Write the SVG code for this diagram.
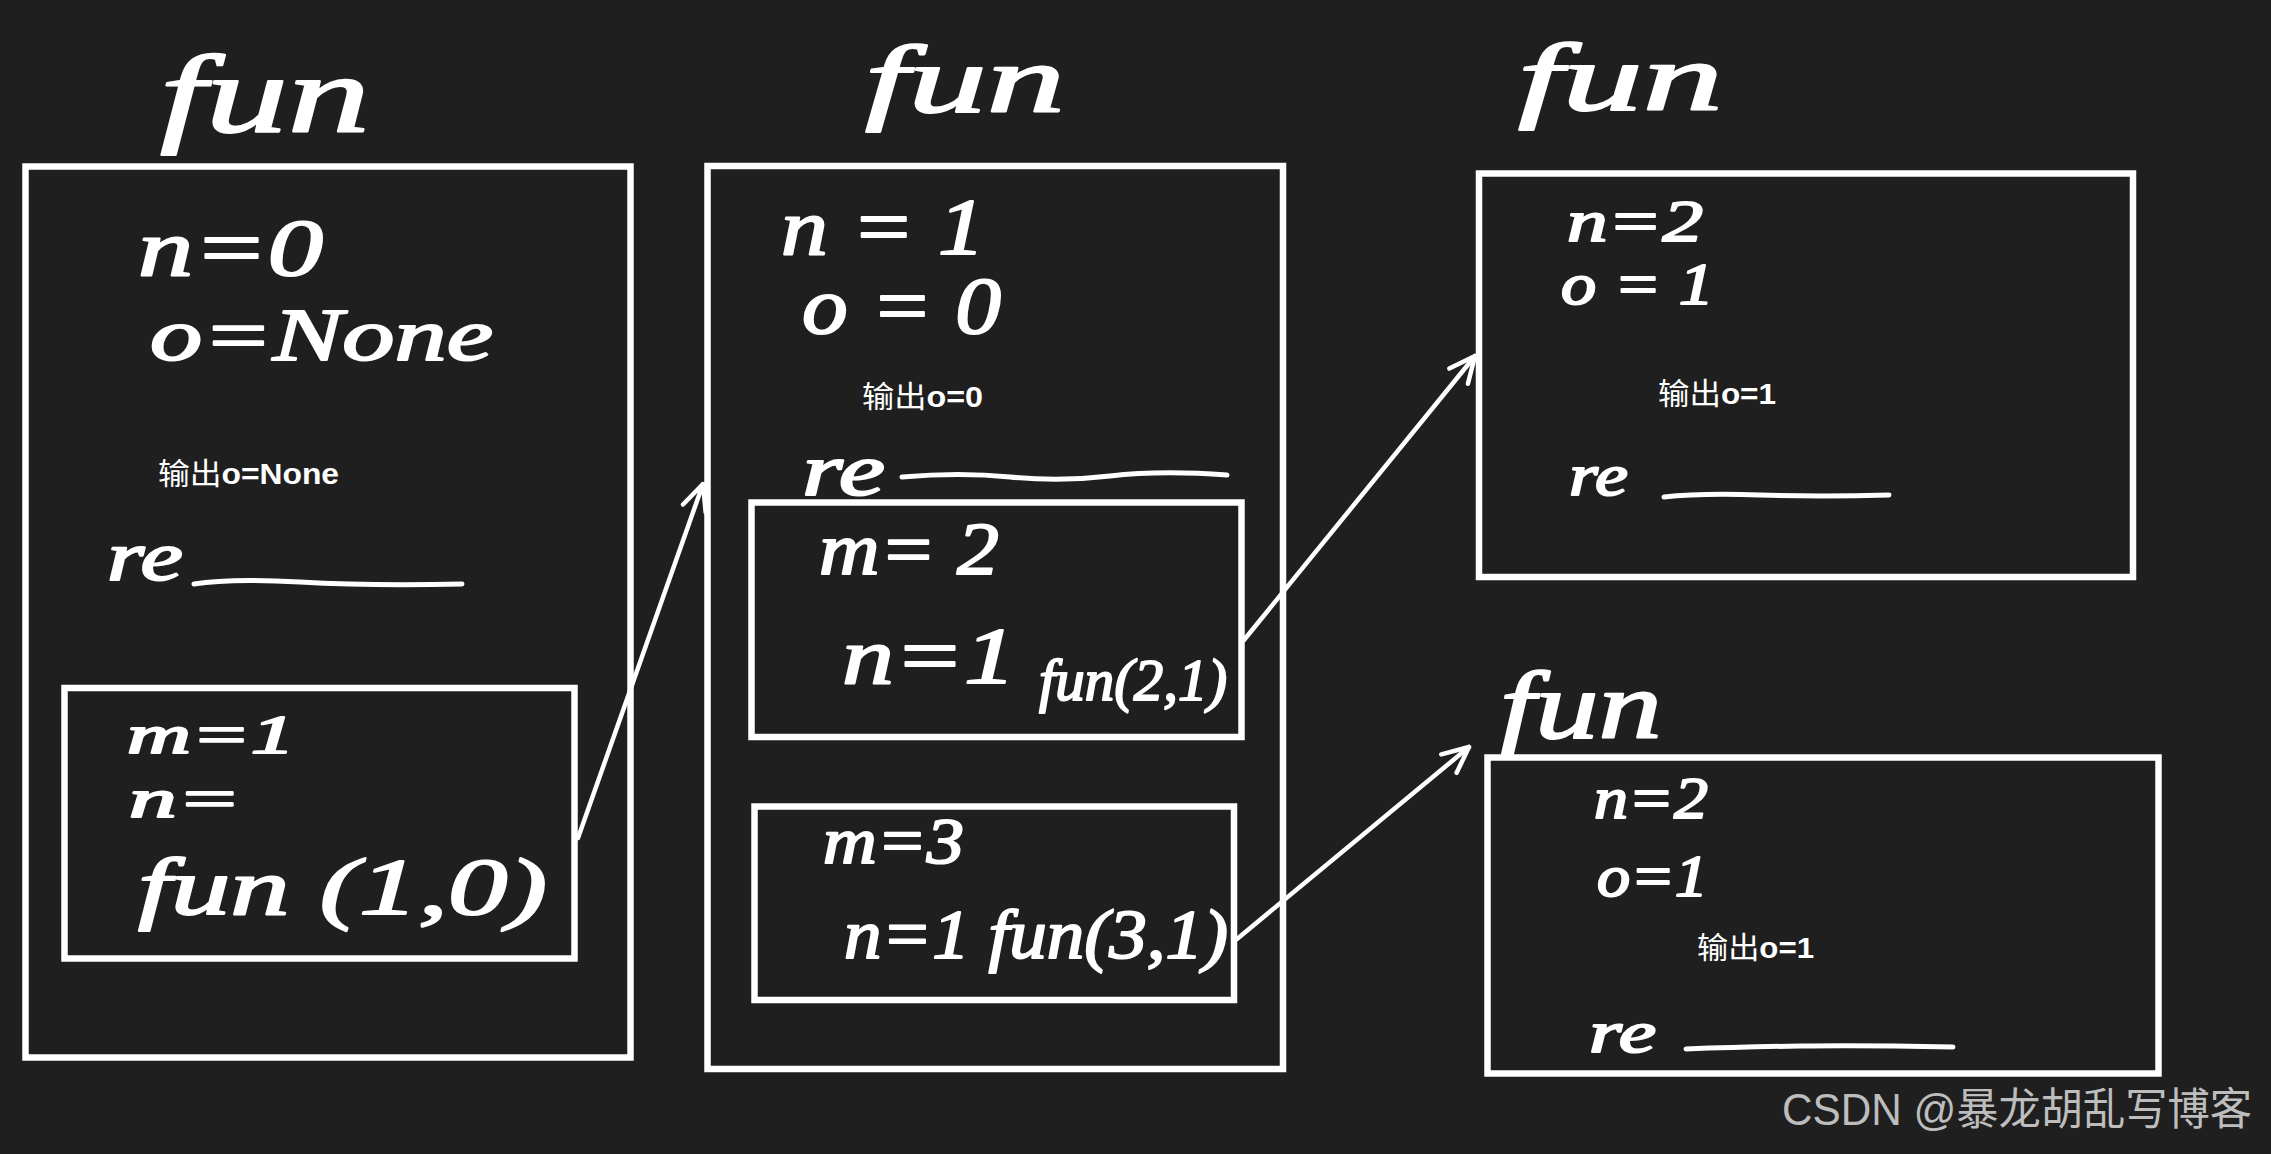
<svg xmlns="http://www.w3.org/2000/svg" width="2271" height="1154" viewBox="0 0 2271 1154">
<style>
.bg{fill:#1f1f1f}
.box{fill:none;stroke:#ffffff;stroke-width:6.5}
.hw{fill:#ffffff;font-family:"Liberation Serif","DejaVu Serif",serif;font-style:italic;stroke:#ffffff;stroke-width:2;stroke-linejoin:round}
.lbl{fill:#ffffff;font-family:"Liberation Sans","Noto Sans CJK SC",sans-serif;font-size:30px}
.lbl .b{font-weight:bold}
.blank{fill:none;stroke:#ffffff;stroke-width:5;stroke-linecap:round}
.conn{fill:none;stroke:#ffffff;stroke-width:4.5;stroke-linecap:round}
.wm{fill:#bdbdbd;font-family:"Liberation Sans","Noto Sans CJK SC",sans-serif;font-size:44px}
</style>
<defs>
<marker id="arr" viewBox="0 0 32 32" refX="30" refY="16" markerWidth="32" markerHeight="32" orient="auto" markerUnits="userSpaceOnUse">
<path d="M4,4 L30,16 L4,28" fill="none" stroke="#ffffff" stroke-width="4.5" stroke-linecap="round" stroke-linejoin="round"/>
</marker>
</defs>
<rect class="bg" x="0" y="0" width="2271" height="1154"/>

<g id="frame-n0">
<text class="hw" x="160" y="132" font-size="110" textLength="210" lengthAdjust="spacingAndGlyphs">fun</text>
<rect class="box" x="25.5" y="166.5" width="605" height="891"/>
<text class="hw" x="138" y="275" font-size="80" textLength="185" lengthAdjust="spacingAndGlyphs">n=0</text>
<text class="hw" x="150" y="360" font-size="75" textLength="343" lengthAdjust="spacingAndGlyphs">o=None</text>
<text class="lbl" x="158" y="484" textLength="181" lengthAdjust="spacingAndGlyphs">输出<tspan class="b">o=None</tspan></text>
<text class="hw" x="107" y="580" font-size="70" textLength="76" lengthAdjust="spacingAndGlyphs">re</text>
<path class="blank" d="M194,584 Q230,578 300,582 T462,584"/>
</g>

<g id="call-m1">
<rect class="box" x="64.5" y="688" width="510" height="270.5"/>
<text class="hw" x="127" y="753" font-size="54" textLength="168" lengthAdjust="spacingAndGlyphs">m=1</text>
<text class="hw" x="129" y="817" font-size="54" textLength="112" lengthAdjust="spacingAndGlyphs">n=</text>
<text class="hw" x="138" y="914" font-size="80" textLength="409" lengthAdjust="spacingAndGlyphs">fun (1,0)</text>
</g>

<g id="frame-n1">
<text class="hw" x="865" y="112" font-size="95" textLength="200" lengthAdjust="spacingAndGlyphs">fun</text>
<rect class="box" x="707.5" y="166" width="575.5" height="903"/>
<text class="hw" x="781" y="254" font-size="80" textLength="204" lengthAdjust="spacingAndGlyphs">n = 1</text>
<text class="hw" x="802" y="333" font-size="80" textLength="199" lengthAdjust="spacingAndGlyphs">o = 0</text>
<text class="lbl" x="862" y="407" textLength="121" lengthAdjust="spacingAndGlyphs">输出<tspan class="b">o=0</tspan></text>
<text class="hw" x="802" y="495" font-size="75" textLength="83" lengthAdjust="spacingAndGlyphs">re</text>
<path class="blank" d="M902,477 Q960,472 1010,477 Q1060,482 1110,476 T1227,475"/>
</g>

<g id="call-m2">
<rect class="box" x="751.5" y="502.5" width="490" height="234.5"/>
<text class="hw" x="819" y="574" font-size="75" textLength="180" lengthAdjust="spacingAndGlyphs">m= 2</text>
<text class="hw" x="842" y="683" font-size="80" textLength="174" lengthAdjust="spacingAndGlyphs">n=1</text>
<text class="hw" x="1039" y="700" font-size="60" textLength="188" lengthAdjust="spacingAndGlyphs">fun(2,1)</text>
</g>

<g id="call-m3">
<rect class="box" x="754.5" y="806.5" width="479.5" height="193.5"/>
<text class="hw" x="823" y="863" font-size="65" textLength="141" lengthAdjust="spacingAndGlyphs">m=3</text>
<text class="hw" x="844" y="958" font-size="70" textLength="384" lengthAdjust="spacingAndGlyphs">n=1 fun(3,1)</text>
</g>

<g id="frame-n2-a">
<text class="hw" x="1518" y="110" font-size="95" textLength="205" lengthAdjust="spacingAndGlyphs">fun</text>
<rect class="box" x="1479" y="173.5" width="654" height="403.5"/>
<text class="hw" x="1567" y="241" font-size="60" textLength="136" lengthAdjust="spacingAndGlyphs">n=2</text>
<text class="hw" x="1561" y="304" font-size="60" textLength="153" lengthAdjust="spacingAndGlyphs">o = 1</text>
<text class="lbl" x="1658" y="404" textLength="118" lengthAdjust="spacingAndGlyphs">输出<tspan class="b">o=1</tspan></text>
<text class="hw" x="1569" y="495" font-size="60" textLength="59" lengthAdjust="spacingAndGlyphs">re</text>
<path class="blank" d="M1664,497 Q1700,493 1760,495 T1889,495"/>
</g>

<g id="frame-n2-b">
<text class="hw" x="1500" y="738" font-size="95" textLength="162" lengthAdjust="spacingAndGlyphs">fun</text>
<rect class="box" x="1487.5" y="757.5" width="671" height="316"/>
<text class="hw" x="1594" y="818" font-size="60" textLength="114" lengthAdjust="spacingAndGlyphs">n=2</text>
<text class="hw" x="1597" y="896" font-size="60" textLength="111" lengthAdjust="spacingAndGlyphs">o=1</text>
<text class="lbl" x="1697" y="958" textLength="117" lengthAdjust="spacingAndGlyphs">输出<tspan class="b">o=1</tspan></text>
<text class="hw" x="1589" y="1052" font-size="60" textLength="67" lengthAdjust="spacingAndGlyphs">re</text>
<path class="blank" d="M1686,1049 Q1740,1047 1800,1046 T1953,1047"/>
</g>

<g id="connectors">
<path class="conn" d="M578,838 L703,484" marker-end="url(#arr)"/>
<path class="conn" d="M1244,640 L1475,356" marker-end="url(#arr)"/>
<path class="conn" d="M1237,939 L1469,747" marker-end="url(#arr)"/>
</g>

<text class="wm" x="1782" y="1125" textLength="470" lengthAdjust="spacingAndGlyphs">CSDN @暴龙胡乱写博客</text>
</svg>
